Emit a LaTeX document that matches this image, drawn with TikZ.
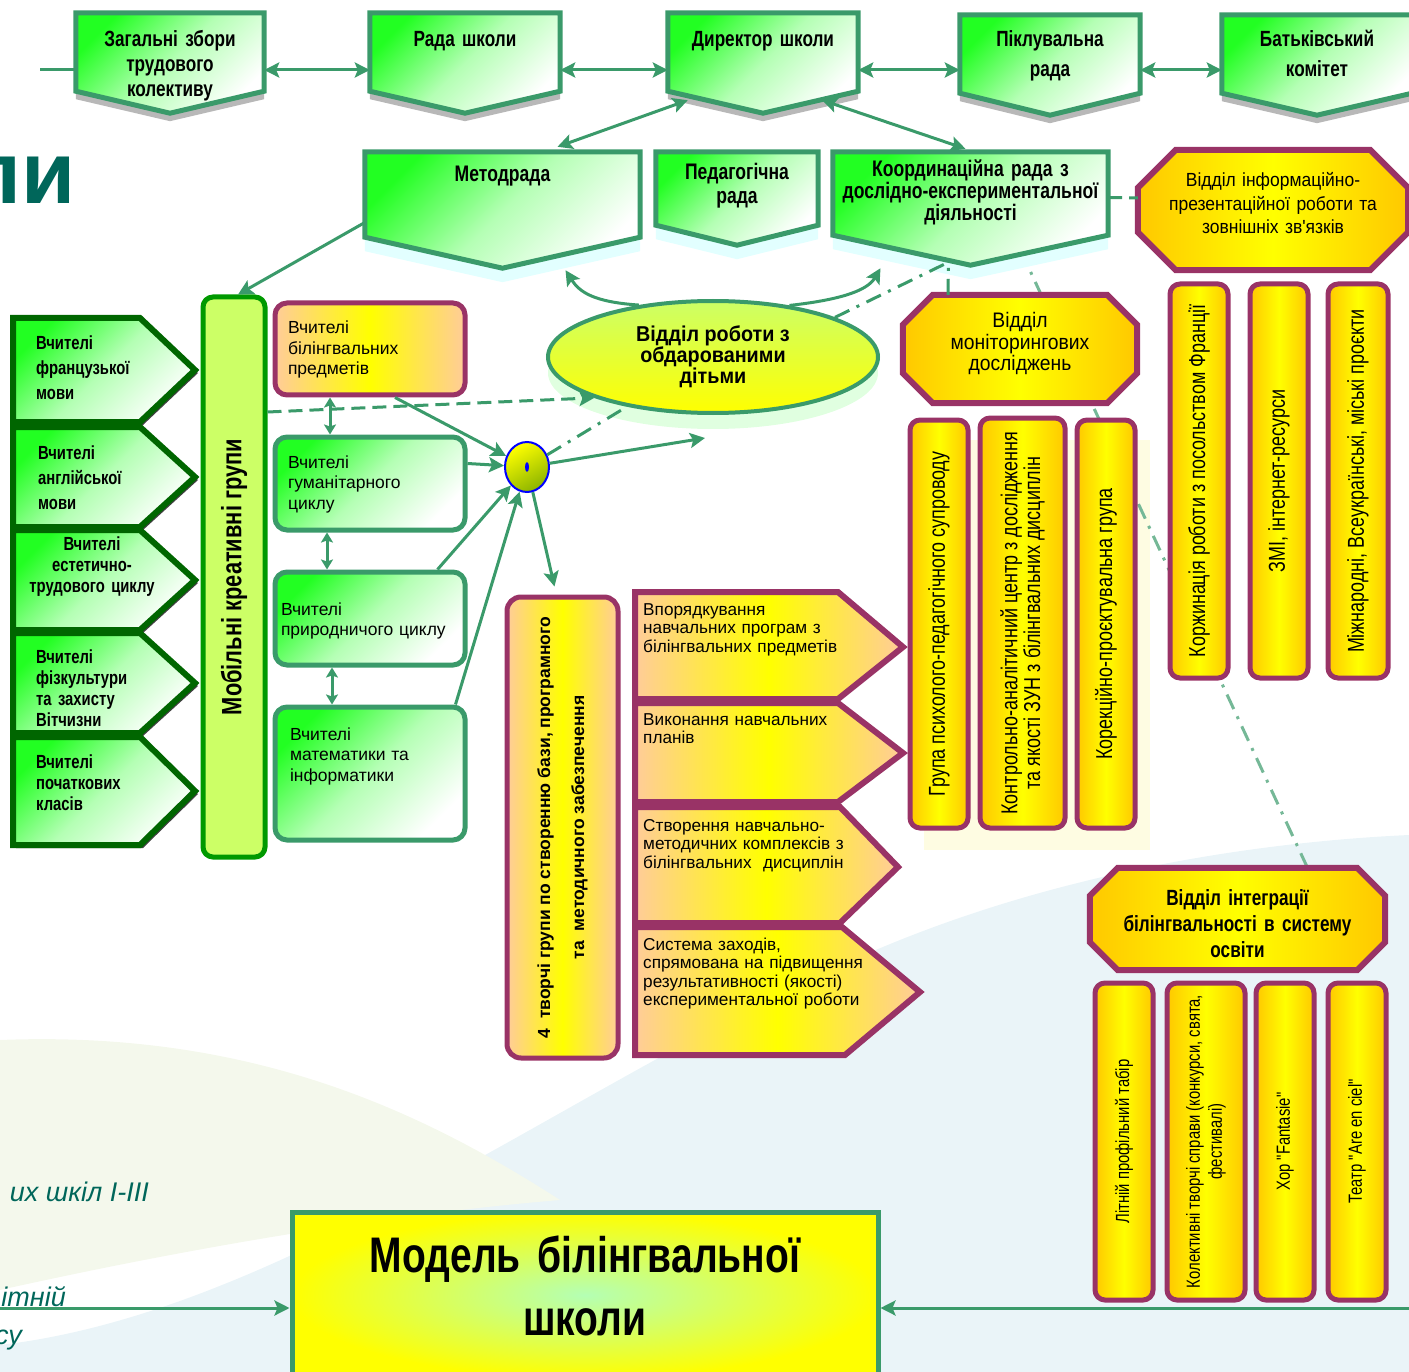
\documentclass[tikz,border=0pt]{standalone}
\usepackage{fontspec}
\setmainfont{Liberation Sans}
\newfontfamily\narrowfont[FakeStretch=0.78]{Liberation Sans}
\newfontfamily\semifont[FakeStretch=0.92]{Liberation Sans}
\newcommand\nsp{\spaceskip=.22em\relax}
\usetikzlibrary{positioning,arrows.meta,shapes.geometric,shadows,backgrounds}
\definecolor{boxgreen}{HTML}{3A9A6A}
\definecolor{darkgreen}{HTML}{006600}
\definecolor{brightgreen}{HTML}{22FF22}
\definecolor{palegreen}{HTML}{B4FFB4}
\definecolor{barfill}{HTML}{CCFF66}
\definecolor{barline}{HTML}{009900}
\definecolor{purp}{HTML}{993366}
\definecolor{peach}{HTML}{FFCC99}
\definecolor{gold}{HTML}{FFC800}
\definecolor{fragteal}{HTML}{00665A}
\definecolor{paleblue}{HTML}{EAF4F8}
\definecolor{wavegreen}{HTML}{F4F8EC}
\definecolor{palecyan}{HTML}{E2FFFF}
\definecolor{paleyellow}{HTML}{FEFCE2}
\definecolor{ocolive}{HTML}{8CB400}
\begin{document}
\begin{tikzpicture}[x=1pt,y=-1pt,>={Stealth[length=15pt,width=15pt,inset=3pt]},
  line/.style={draw=boxgreen,line width=3pt},
  arr/.style={line,->},
  dbl/.style={line,<->},
  smalldbl/.style={line,{Stealth[length=10pt,width=12pt,inset=2pt]}-{Stealth[length=10pt,width=12pt,inset=2pt]}},
  dashline/.style={line,dash pattern=on 14pt off 7pt},
  dashdot/.style={line,dash pattern=on 16pt off 8pt on 3pt off 8pt},
  greenfade/.style={top color=brightgreen,bottom color=white,middle color=palegreen,shading angle=45},
  peachfade/.style={left color=peach,right color=peach,middle color=yellow},
  goldfade/.style={left color=gold,right color=gold,middle color=yellow},
  shieldnode/.style={inner sep=0pt,align=center,font=\narrowfont\bfseries\fontsize{22}{25}\selectfont\nsp},
  topshield/.style={draw=boxgreen,line width=5pt,greenfade,drop shadow={shadow xshift=0pt,shadow yshift=-8pt,fill=black!28,opacity=1}},
  midshield/.style={draw=boxgreen,line width=5pt,greenfade,drop shadow={shadow xshift=0pt,shadow yshift=-14pt,fill=palecyan,opacity=1}},
  octanode/.style={inner sep=0pt,align=center},
  octa/.style={draw=purp,line width=6pt,goldfade},
  leftarrow/.style={draw=darkgreen,line width=6pt,greenfade,drop shadow={shadow xshift=3pt,shadow yshift=-3pt,fill=black!75,opacity=1}},
  lefttxt/.style={anchor=base west,inner sep=0pt,align=left,text width=150,font=\narrowfont\bfseries\fontsize{19}{21}\selectfont\nsp},
  purparrow/.style={draw=purp,line width=6pt,peachfade},
  purptxt/.style={anchor=base west,inner sep=0pt,align=left,text width=270,font=\fontsize{17.2}{18.5}\selectfont},
  teachbox/.style={rounded corners=12pt,line width=5pt,inner sep=0pt,minimum width=190,align=left,font=\fontsize{17.5}{20.5}\selectfont},
  greenbox/.style={teachbox,draw=boxgreen,greenfade},
  peachbox/.style={teachbox,draw=purp,peachfade},
  vbox/.style={rotate=90,draw=purp,line width=5pt,rounded corners=10pt,goldfade,inner sep=0pt,align=center,font=\narrowfont\fontsize{23}{20}\selectfont\nsp},
  lowvbox/.style={vbox,font=\narrowfont\fontsize{19}{22}\selectfont\nsp},
  fragtxt/.style={anchor=base east,inner sep=0pt,text=fragteal,font=\itshape\fontsize{27}{27}\selectfont}]
\useasboundingbox (0,0) rectangle (1409,1372);

\node[shieldnode,minimum width=188,text width=180,text height=34,text depth=44] (zbory) at (170,52) {Загальні збори\\трудового\\колективу};
\node[shieldnode,minimum width=190,text width=180,text height=34,text depth=44] (rada) at (465,52) {Рада школи};
\node[shieldnode,minimum width=190,text width=180,text height=34,text depth=44] (dyrektor) at (763,52) {Директор школи};
\node[shieldnode,minimum width=180,text width=170,text height=32,text depth=46,font=\narrowfont\bfseries\fontsize{22}{30}\selectfont\nsp] (pikl) at (1050,54) {Піклувальна\\рада};
\node[shieldnode,minimum width=190,text width=180,text height=32,text depth=46,font=\narrowfont\bfseries\fontsize{22}{30}\selectfont\nsp] (batk) at (1317,54) {Батьківський\\комітет};

\node[shieldnode,minimum width=275,text width=265,text height=30,text depth=55,font=\narrowfont\bfseries\fontsize{22.5}{25}\selectfont\nsp] (metod) at (502.5,194.5) {Методрада};
\node[shieldnode,minimum width=162,text width=155,text height=28,text depth=45,font=\narrowfont\bfseries\fontsize{22.5}{23.5}\selectfont\nsp] (pedrada) at (737,188.5) {Педагогічна\\рада};
\node[shieldnode,minimum width=275,text width=270,text height=25,text depth=58,font=\narrowfont\bfseries\fontsize{22.5}{20}\selectfont\nsp] (koord) at (970.5,193.5) {Координаційна рада з\\дослідно-експериментальної\\діяльності};
\node[octanode,minimum width=270,text width=250,text height=37,text depth=83,font=\semifont\fontsize{19}{23.5}\selectfont] (info) at (1273,210) {Відділ інформаційно-\\презентаційної роботи та\\зовнішніх зв'язків};

\node[ellipse,draw=boxgreen,line width=4pt,top color=barfill,bottom color=yellow,minimum width=330,minimum height=112,inner sep=0pt,align=center,font=\semifont\bfseries\fontsize{21.5}{20}\selectfont,drop shadow={shadow xshift=0pt,shadow yshift=-16pt,fill=green!12,opacity=1}] (obdar) at (713,357) {Відділ роботи з\\обдарованими\\дітьми};
\node[ellipse,draw=blue,line width=2pt,top color=yellow,bottom color=ocolive,shading angle=30,minimum width=44,minimum height=50,inner sep=0pt] (ocirc) at (527,467) {};
\node[ellipse,fill=blue,minimum width=4,minimum height=10,inner sep=0pt] (ocdot) at (ocirc) {};

\node[lefttxt,font=\narrowfont\bfseries\fontsize{19}{25}\selectfont] (frtxt) at (36,350) {Вчителі\\французької\\мови};
\node[lefttxt,font=\narrowfont\bfseries\fontsize{19}{25.5}\selectfont] (entxt) at (38,459) {Вчителі\\англійської\\мови};
\node[lefttxt,anchor=base,align=center] (esttxt) at (92,550) {Вчителі\\естетично-\\трудового циклу};
\node[lefttxt] (fiztxt) at (36,663) {Вчителі\\фізкультури\\та захисту\\Вітчизни};
\node[lefttxt] (pochtxt) at (36,768) {Вчителі\\початкових\\класів};

\node[rotate=90,draw=barline,line width=5pt,rounded corners=10pt,fill=barfill,inner sep=0pt,minimum width=560,minimum height=62,font=\narrowfont\bfseries\fontsize{28}{30}\selectfont\nsp] (mobile) at (234,577) {Мобільні креативні групи};

\node[peachbox,inner xsep=13pt,text width=164,text height=31,text depth=61] (bilteach) at (370,349) {Вчителі\\білінгвальних\\предметів};
\node[greenbox,inner xsep=13pt,text width=164,text height=31,text depth=62] (gum) at (370,483.5) {Вчителі\\гуманітарного\\циклу};
\node[greenbox,inner xsep=6pt,text width=178,text height=43,text depth=50] (pryr) at (370,618.5) {Вчителі\\природничого циклу};
\node[greenbox,inner xsep=15pt,text width=160,text height=33,text depth=100] (mat) at (370,773.5) {Вчителі\\математики та\\інформатики};

\node[rotate=90,draw=purp,line width=5pt,rounded corners=14pt,peachfade,inner sep=0pt,minimum width=461,minimum height=111,align=center,font=\bfseries\fontsize{17.5}{34}\selectfont] (tvorchi) at (562.5,827.5) {4~~творчі групи по створенню бази, програмного\\та~~методичного забезпечення};

\node[purptxt] (vporyad) at (643,615) {Впорядкування\\навчальних програм з\\білінгвальних предметів};
\node[purptxt] (vykon) at (643,725) {Виконання навчальних\\планів};
\node[purptxt] (stvor) at (643,831) {Створення навчально-\\методичних комплексів з\\білінгвальних~ дисциплін};
\node[purptxt] (system) at (643,950) {Система заходів,\\спрямована на підвищення\\результативності (якості)\\експериментальної роботи};

\node[octanode,minimum width=234,text width=224,text height=33,text depth=75,font=\semifont\fontsize{21}{21.5}\selectfont] (monit) at (1020,349) {Відділ\\моніторингових\\досліджень};
\node[vbox,minimum width=408,minimum height=58] (psych) at (939,624) {Група психолого-педагогічного супроводу};
\node[vbox,minimum width=410,minimum height=85] (kontr) at (1022.5,623) {Контрольно-аналітичний центр з дослідження\\та якості ЗУН з білінгвальних дисциплін};
\node[vbox,minimum width=408,minimum height=58] (korek) at (1106,624) {Корекційно-проєктувальна група};

\node[vbox,minimum width=394,minimum height=58] (korzh) at (1199,481) {Коржинація роботи з посольством Франції};
\node[vbox,minimum width=394,minimum height=58] (zmi) at (1279,481) {ЗМІ, інтернет-ресурси};
\node[vbox,minimum width=394,minimum height=60] (mizhn) at (1358,481) {Міжнародні, Всеукраїнські, міські проєкти};

\node[octanode,minimum width=295,text width=285,text height=37,text depth=65,font=\narrowfont\bfseries\fontsize{22}{26}\selectfont\nsp] (integr) at (1237.5,919) {Відділ інтеграції\\білінгвальності в систему\\освіти};
\node[lowvbox,minimum width=317,minimum height=58] (litniy) at (1124,1141.5) {Літній профільний табір};
\node[lowvbox,minimum width=317,minimum height=78] (kolekt) at (1206,1141.5) {Колективні творчі справи (конкурси, свята,\\фестивалі)};
\node[lowvbox,minimum width=317,minimum height=58] (khor) at (1285,1141.5) {Хор "Fantasie"};
\node[lowvbox,minimum width=317,minimum height=58] (teatr) at (1357,1141.5) {Театр "Are en ciel"};

\node[draw=boxgreen,line width=5pt,inner color=palegreen,outer color=yellow,inner sep=0pt,minimum width=586,text width=570,text height=60,text depth=106,align=center,font=\narrowfont\bfseries\fontsize{50}{63}\selectfont\nsp] (model) at (585,1295) {Модель білінгвальної\\школи};

\node[anchor=base east,inner sep=0pt,text=fragteal,font=\bfseries\fontsize{88}{90}\selectfont] (li) at (76,204) {ли};
\node[fragtxt] (shkil) at (149,1201) {их шкіл І-ІІІ};
\node[fragtxt] (litn) at (66,1306) {ітній};
\node[fragtxt] (su) at (22,1344) {су};

\begin{scope}[on background layer]
\path[fill=paleblue] (0,1372) -- (0,1345) .. controls (300,1310) and (600,1060) .. (900,940) .. controls (1100,860) and (1300,840) .. (1409,835) -- (1409,1372) -- cycle;
\path[fill=wavegreen] (0,1040) .. controls (250,1030) and (420,1110) .. (560,1200) .. controls (380,1215) and (180,1250) .. (0,1290) -- cycle;
\path[fill=paleyellow] (924,440) rectangle (1150,850);
\draw[dashdot,draw=boxgreen!70] ([xshift=50pt,yshift=-15pt]koord.south) -- ([xshift=70pt]integr.north);
\foreach \n in {zbory,rada,dyrektor,pikl,batk}
  \path[topshield] (\n.north west) -- (\n.north east) -- (\n.south east) -- ([yshift=-22pt]\n.south) -- (\n.south west) -- cycle;
\foreach \n/\d in {metod/31,pedrada/20,koord/30}
  \path[midshield] (\n.north west) -- (\n.north east) -- (\n.south east) -- ([yshift=-\d pt]\n.south) -- (\n.south west) -- cycle;
\foreach \n/\c in {info/38,monit/30,integr/28}
  \path[octa] ([xshift=\c pt]\n.north west) -- ([xshift=-\c pt]\n.north east) -- ([yshift=-\c pt]\n.north east) -- ([yshift=\c pt]\n.south east) -- ([xshift=-\c pt]\n.south east) -- ([xshift=\c pt]\n.south west) -- ([yshift=\c pt]\n.south west) -- ([yshift=-\c pt]\n.north west) -- cycle;
\foreach \ya/\yb in {318/422,427/527,530/630,633/733,737/845}
  \path[leftarrow] (13,\ya) -- (140,\ya) -- (195,{(\ya+\yb)/2}) -- (140,\yb) -- (13,\yb) -- cycle;
\foreach \ya/\yb/\xa/\xb/\xp/\yp in {592/699/838/838/903/647,703/802/838/838/903/753,807/923/840/840/898/867,927/1055/842/845/920/992}
  \path[purparrow] (635,\ya) -- (\xa,\ya) -- (\xp,\yp) -- (\xb,\yb) -- (635,\yb) -- cycle;
\end{scope}

\coordinate (lstart) at (40,70);
\draw[line] (lstart) -- (lstart -| zbory.west);
\draw[dbl] ([yshift=-18pt]zbory.east) -- ([yshift=-18pt]rada.west);
\draw[dbl] ([yshift=-18pt]rada.east) -- ([yshift=-18pt]dyrektor.west);
\draw[dbl] ([yshift=-18pt]dyrektor.east) -- ([yshift=-16pt]pikl.west);
\draw[dbl] ([yshift=-16pt]pikl.east) -- ([yshift=-16pt]batk.west);
\draw[dbl] ([xshift=20pt,yshift=-9pt]dyrektor.south west) -- ([xshift=55pt,yshift=5pt]metod.north);
\draw[dbl] ([xshift=-36pt,yshift=-9pt]dyrektor.south east) -- ([xshift=-5pt,yshift=3pt]koord.north);
\draw[arr] ([yshift=-28pt]metod.west) -- ([xshift=4pt]mobile.east);
\draw[arr] (obdar.145) .. controls +(-45,-3) and +(14,22) .. ([xshift=63pt,yshift=-33pt]metod.south);
\draw[arr] (obdar.34) .. controls +(45,-5) and +(-14,24) .. ([xshift=-90pt,yshift=-33pt]koord.south);
\draw[dashdot] (obdar.18) -- ([xshift=-22pt,yshift=-27pt]koord.south);
\draw[dashdot] ([xshift=-72pt]monit.north) -- ([xshift=-22pt,yshift=-27pt]koord.south);
\draw[dashline] ([yshift=-4pt]koord.east) -- ([yshift=12pt]info.west);
\draw[dashline,->] ([yshift=165pt]mobile.south) -- (obdar.199);
\draw[dashdot] (ocirc) -- (obdar.210);
\draw[arr] ([xshift=25pt]bilteach.south) -- (ocirc);
\draw[arr] ([yshift=20pt]gum.east) -- (ocirc);
\draw[arr] ([xshift=-30pt]pryr.north east) -- (ocirc);
\draw[arr] ([xshift=-12pt]mat.north east) -- (ocirc);
\coordinate (obout) at (705,438);
\draw[arr] (ocirc) -- (obout);
\draw[arr] (ocirc) -- ([xshift=-8pt,yshift=8pt]tvorchi.east);
\draw[smalldbl] ([xshift=-40pt]bilteach.south) -- ([xshift=-40pt]gum.north);
\draw[smalldbl] ([xshift=-43pt]gum.south) -- ([xshift=-43pt]pryr.north);
\draw[smalldbl] ([xshift=-38pt]pryr.south) -- ([xshift=-38pt]mat.north);
\coordinate (lin) at (0,1308);
\coordinate (rin) at (1409,1308);
\draw[arr] (lin) -- (lin -| model.west);
\draw[arr] (rin) -- (rin -| model.east);
\end{tikzpicture}
\end{document}
